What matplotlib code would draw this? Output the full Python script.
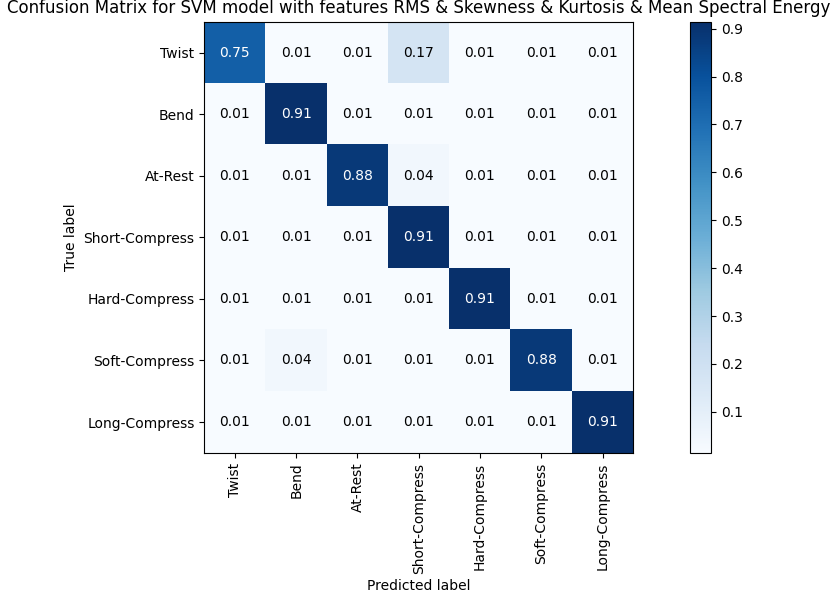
import numpy as np
import matplotlib
matplotlib.use("Agg")
import matplotlib.pyplot as plt

classes = ['Twist', 'Bend', 'At-Rest', 'Short-Compress', 'Hard-Compress',
           'Soft-Compress', 'Long-Compress']

lo = 0.0145
cm = np.array([
    [0.75, lo, lo, 0.17, lo, lo, lo],
    [lo, 0.9145, lo, lo, lo, lo, lo],
    [lo, lo, 0.88, 0.04, lo, lo, lo],
    [lo, lo, lo, 0.9145, lo, lo, lo],
    [lo, lo, lo, lo, 0.9145, lo, lo],
    [lo, 0.04, lo, lo, lo, 0.88, lo],
    [lo, lo, lo, lo, lo, lo, 0.9145],
])

fig = plt.figure(figsize=(8.37, 6.03), dpi=100)
ax = fig.add_axes([0.244, 0.249, 0.5125, 0.715])
im = ax.imshow(cm, interpolation='nearest', cmap=plt.cm.Blues, aspect='auto')
ax.set_title('Confusion Matrix for SVM model with features RMS & Skewness & Kurtosis & Mean Spectral Energy')
cax = fig.add_axes([0.824, 0.249, 0.026, 0.715])
fig.colorbar(im, cax=cax)

ticks = np.arange(len(classes))
ax.set_xticks(ticks)
ax.set_xticklabels(classes, rotation=90)
ax.set_yticks(ticks)
ax.set_yticklabels(classes)

thresh = cm.max() / 2.
for i in range(cm.shape[0]):
    for j in range(cm.shape[1]):
        ax.text(j, i, format(cm[i, j], '.2f'), ha='center', va='center',
                color='white' if cm[i, j] > thresh else 'black')

ax.set_ylabel('True label')
ax.set_xlabel('Predicted label')
fig.savefig('out.png', dpi=100)
